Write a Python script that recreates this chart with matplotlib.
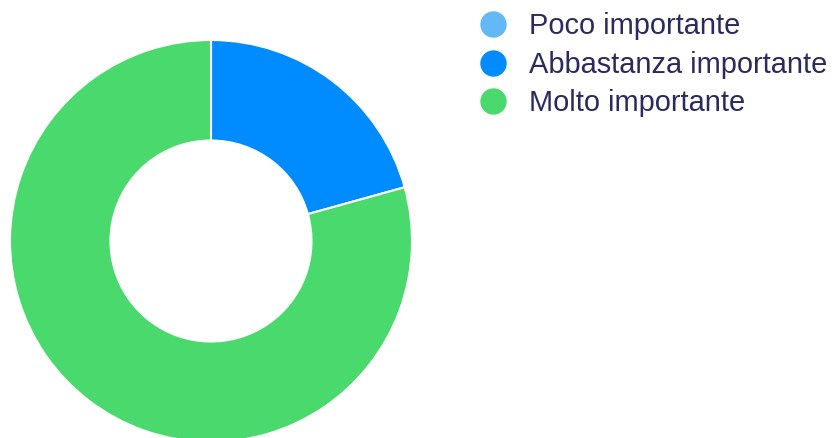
import matplotlib
matplotlib.use("Agg")
import matplotlib.pyplot as plt
from matplotlib.lines import Line2D

categories = ["Poco importante", "Abbastanza importante", "Molto importante"]
values = [0, 6, 23]
colors = ["#64B8F6", "#008BFF", "#4AD96C"]
text_color = "#2B2A5E"

W, H = 835, 438
fig = plt.figure(figsize=(W / 100, H / 100), dpi=100)
fig.patch.set_facecolor("white")

cx, cy, r = 211, 241, 201
ax = fig.add_axes([(cx - r) / W, (H - cy - r) / H, 2 * r / W, 2 * r / H])
ax.pie(values, colors=colors, startangle=90, counterclock=False, radius=1,
       wedgeprops=dict(width=0.5, edgecolor="white", linewidth=1.5))
ax.set_xlim(-1, 1)
ax.set_ylim(-1, 1)
ax.set_aspect("equal")
ax.axis("off")

handles = [Line2D([0], [0], marker="o", linestyle="none", markersize=18,
                  markerfacecolor=c, markeredgecolor=c) for c in colors]
leg = fig.legend(handles, categories, loc="upper left",
                 bbox_to_anchor=(478 / W, 1 - 12 / H), frameon=False,
                 prop=dict(family="Liberation Sans", size=20.9),
                 labelcolor=text_color, handlelength=1.0, handletextpad=0.75,
                 labelspacing=0.37, borderaxespad=0, borderpad=0)

fig.savefig("out.png", dpi=100)
